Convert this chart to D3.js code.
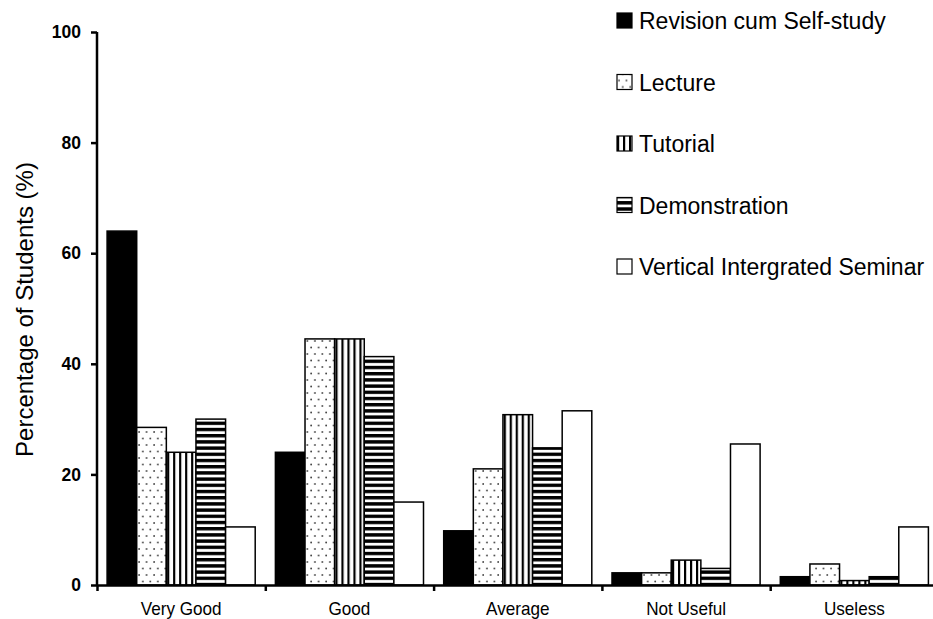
<!DOCTYPE html>
<html>
<head>
<meta charset="utf-8">
<script src="https://cdn.jsdelivr.net/npm/d3@7"></script>
<style>
  html, body { margin: 0; padding: 0; background: #fff; }
  svg { display: block; }
  text { font-family: "Liberation Sans", Arial, sans-serif; fill: #000; }
</style>
</head>
<body>
<svg id="chart" width="933" height="619"></svg>
<script>
const categories = ["Very Good", "Good", "Average", "Not Useful", "Useless"];
const seriesNames = ["Revision cum Self-study", "Lecture", "Tutorial", "Demonstration", "Vertical Intergrated Seminar"];
const revision      = [64, 24, 9.8, 2.2, 1.5];
const lecture       = [28.5, 44.5, 21, 2.2, 3.8];
const tutorial      = [24, 44.5, 30.8, 4.5, 0.8];
const demonstration = [30, 41.3, 24.8, 3, 1.5];
const vis           = [10.5, 15, 31.5, 25.5, 10.5];
const yTicks = [0, 20, 40, 60, 80, 100];
const yTitle = "Percentage of Students (%)";

const seriesValues = [revision, lecture, tutorial, demonstration, vis];
const fills = ["#000", "url(#dots)", "url(#vstripes)", "url(#hstripes)", "#fff"];

const svg = d3.select("#chart");
const defs = svg.append("defs");

// dotted pattern
const pd = defs.append("pattern").attr("id", "dots").attr("patternUnits", "userSpaceOnUse")
  .attr("width", 7.5).attr("height", 13);
pd.append("rect").attr("width", 7.5).attr("height", 13).attr("fill", "#fff");
pd.append("circle").attr("cx", 2).attr("cy", 3).attr("r", 0.9).attr("fill", "#444");
pd.append("circle").attr("cx", 5.75).attr("cy", 9.5).attr("r", 0.9).attr("fill", "#444");

// vertical stripes
const pv = defs.append("pattern").attr("id", "vstripes").attr("patternUnits", "userSpaceOnUse")
  .attr("width", 6).attr("height", 6);
pv.append("rect").attr("width", 6).attr("height", 6).attr("fill", "#fff");
pv.append("rect").attr("x", 0).attr("width", 2.2).attr("height", 6).attr("fill", "#000");

// horizontal stripes
const ph = defs.append("pattern").attr("id", "hstripes").attr("patternUnits", "userSpaceOnUse")
  .attr("width", 6).attr("height", 6.2);
ph.append("rect").attr("width", 6).attr("height", 6.2).attr("fill", "#fff");
ph.append("rect").attr("y", 0).attr("width", 6).attr("height", 3.4).attr("fill", "#000");

const mLeft = 97, mRight = 938.5, mTop = 32, mBottom = 585;

const y = d3.scaleLinear().domain([0, 100]).range([mBottom, mTop]);
const x = d3.scaleBand().domain(categories).range([mLeft, mRight]).paddingInner(0.12).paddingOuter(0.06);
const xs = d3.scaleBand().domain(seriesNames).range([0, x.bandwidth()]);
const xb = d3.scaleLinear().domain([0, categories.length]).range([mLeft, mRight]);

// bars
const groups = svg.append("g").selectAll("g").data(categories).join("g")
  .attr("transform", d => `translate(${x(d)},0)`);
groups.selectAll("rect")
  .data((c, ci) => seriesNames.map((s, si) => ({ s, si, v: seriesValues[si][ci] })))
  .join("rect")
  .attr("x", d => xs(d.s))
  .attr("width", xs.bandwidth())
  .attr("y", d => y(d.v))
  .attr("height", d => y(0) - y(d.v))
  .attr("fill", d => fills[d.si])
  .attr("stroke", "#000")
  .attr("stroke-width", 1.5);

// y axis
const yAxis = svg.append("g").attr("transform", `translate(${mLeft},0)`)
  .call(d3.axisLeft(y).tickValues(yTicks).tickSize(6).tickPadding(10));
yAxis.select(".domain").attr("stroke-width", 2.5).attr("d", `M0,${mTop}V${mBottom}`);
yAxis.selectAll(".tick line").attr("stroke-width", 2.5);
yAxis.selectAll(".tick text").style("font-size", "17.5px").style("font-weight", "bold")
  .attr("font-family", null);

// x axis ticks (boundaries)
const xAxis = svg.append("g").attr("transform", `translate(0,${mBottom})`)
  .call(d3.axisBottom(xb).tickValues(d3.range(categories.length + 1)).tickFormat("").tickSize(6).tickSizeOuter(0));
xAxis.select(".domain").attr("stroke-width", 2.5);
xAxis.selectAll(".tick line").attr("stroke-width", 2.5);

// x labels
svg.append("g").selectAll("text").data(categories).join("text")
  .attr("x", d => x(d) + x.bandwidth() / 2)
  .attr("y", 615)
  .attr("text-anchor", "middle")
  .style("font-size", "19px")
  .text(d => d)
  .each(function () {
    const w = this.getComputedTextLength();
    d3.select(this).attr("textLength", w * 0.9).attr("lengthAdjust", "spacingAndGlyphs");
  });

// y title
svg.append("text")
  .attr("transform", `translate(33,${(mTop + mBottom) / 2 + 1}) rotate(-90)`)
  .attr("text-anchor", "middle")
  .style("font-size", "24px")
  .text(yTitle);

// legend
const legend = svg.append("g").selectAll("g").data(seriesNames).join("g")
  .attr("transform", (d, i) => `translate(617,${29 + i * 61.5})`);
legend.append("rect")
  .attr("x", 0).attr("y", -16).attr("width", 15).attr("height", 15)
  .attr("fill", (d, i) => fills[i]).attr("stroke", "#000").attr("stroke-width", 1.2);
legend.append("text")
  .attr("x", 22).attr("y", 0)
  .style("font-size", "23px")
  .text(d => d);
</script>
</body>
</html>
